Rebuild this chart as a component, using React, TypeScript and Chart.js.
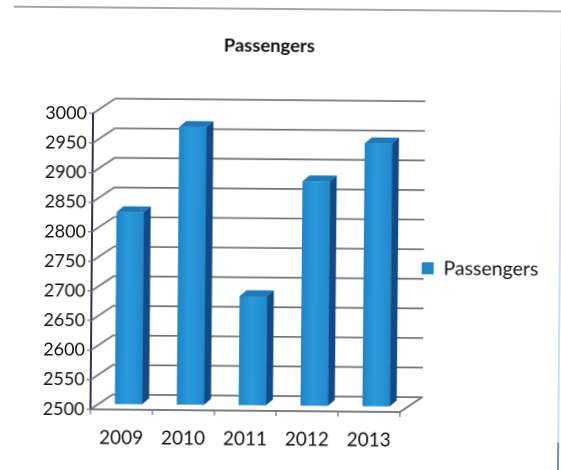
import React, { useEffect, useRef } from "react";
import { Chart, registerables } from "chart.js";

Chart.register(...registerables);

const categories = ["2009", "2010", "2011", "2012", "2013"];
const passengers = [2825, 2970, 2685, 2880, 2945];
const yMin = 2500;
const yMax = 3000;
const yStep = 50;
const seriesName = "Passengers";
const chartTitle = "Passengers";

const FONT = "Lato, 'Noto Sans', sans-serif";
const BACK_DX = 22;
const BACK_DY = -15;
const BAR_DX = 7;
const BAR_DY = -5;
const SIDE_DX = 7;
const SIDE_DY = -6;
const TEXT = "#111116";

const look3d = {
  id: "look3d",
  afterLayout(chart: any) {
    const l = chart.legend;
    if (l) {
      l.left += 12;
      l.right = chart.width;
      l.top += 32;
      l.bottom += 32;
    }
  },
  beforeDatasetsDraw(chart: any) {
    const { ctx, chartArea: a, scales } = chart;
    const y = scales.y;
    ctx.save();
    ctx.lineCap = "round";
    // back wall grid + left wall diagonals
    y.ticks.forEach((tk: any) => {
      const py = y.getPixelForValue(tk.value);
      ctx.strokeStyle = "#6f7078";
      ctx.lineWidth = 1.7;
      ctx.beginPath();
      ctx.moveTo(a.left, py);
      ctx.lineTo(a.left + BACK_DX, py + BACK_DY);
      ctx.lineTo(a.right + BACK_DX, py + BACK_DY);
      ctx.stroke();
    });
    // floor right edge
    const fy = y.getPixelForValue(yMin);
    ctx.strokeStyle = "#6f7078";
    ctx.beginPath();
    ctx.moveTo(a.right, fy);
    ctx.lineTo(a.right + BACK_DX, fy + BACK_DY);
    ctx.stroke();
    ctx.restore();
    // bar depth faces
    const bars = chart.getDatasetMeta(0).data;
    ctx.save();
    ctx.translate(BAR_DX, BAR_DY);
    bars.forEach((b: any) => {
      const { x, y: top, base, width } = b.getProps(["x", "y", "base", "width"], true);
      const r = x + width / 2;
      const l = x - width / 2;
      ctx.fillStyle = "#124a88";
      ctx.beginPath();
      ctx.moveTo(r, top);
      ctx.lineTo(r + SIDE_DX, top + SIDE_DY);
      ctx.lineTo(r + SIDE_DX, base + SIDE_DY);
      ctx.lineTo(r, base);
      ctx.closePath();
      ctx.fill();
      ctx.fillStyle = "#1f78b8";
      ctx.beginPath();
      ctx.moveTo(l, top);
      ctx.lineTo(l + SIDE_DX, top + SIDE_DY);
      ctx.lineTo(r + SIDE_DX, top + SIDE_DY);
      ctx.lineTo(r, top);
      ctx.closePath();
      ctx.fill();
    });
    ctx.restore();
    ctx.save();
    ctx.translate(BAR_DX, BAR_DY);
  },
  afterDatasetsDraw(chart: any) {
    chart.ctx.restore();
  },
  afterDraw(chart: any) {
    const { ctx, width, height } = chart;
    ctx.save();
    ctx.strokeStyle = "#6d7078";
    ctx.lineWidth = 1.3;
    ctx.beginPath();
    ctx.moveTo(12, 9);
    ctx.lineTo(width, 9);
    ctx.stroke();
    ctx.strokeStyle = "#bcd3ea";
    ctx.lineWidth = 1.5;
    ctx.beginPath();
    ctx.moveTo(width - 1, 14);
    ctx.lineTo(width - 1, height - 30);
    ctx.stroke();
    ctx.strokeStyle = "#3f6f9f";
    ctx.beginPath();
    ctx.moveTo(width - 1, height - 30);
    ctx.lineTo(width - 1, height);
    ctx.stroke();
    ctx.restore();
  },
};

export default function App() {
  const ref = useRef<HTMLCanvasElement>(null);
  useEffect(() => {
    document.body.style.margin = "0";
    const chart = new Chart(ref.current as HTMLCanvasElement, {
      type: "bar",
      plugins: [look3d],
      data: {
        labels: categories,
        datasets: [
          {
            label: seriesName,
            data: passengers,
            base: yMin,
            barPercentage: 0.44,
            categoryPercentage: 1,
            backgroundColor: (c: any) => {
              const x = c.dataIndex === undefined ? NaN : c.chart.scales.x?.getPixelForValue(c.dataIndex);
              if (!Number.isFinite(x)) return "#2089d2";
              const g = c.chart.ctx.createLinearGradient(x - 14, 0, x + 14, 0);
              g.addColorStop(0, "#1d84c8");
              g.addColorStop(0.45, "#2a9bdc");
              g.addColorStop(1, "#2288cb");
              return g;
            },
            borderWidth: 0,
          },
        ],
      },
      options: {
        responsive: false,
        animation: false,
        devicePixelRatio: 2,
        layout: { padding: { right: 25.7 } },
        plugins: {
          tooltip: { enabled: false },
          title: {
            display: true,
            text: chartTitle,
            color: TEXT,
            font: { family: FONT, size: 18.4, weight: "bold" },
            padding: { top: 35, bottom: 58 },
          },
          legend: {
            position: "right",
            labels: {
              boxWidth: 12,
              boxHeight: 12,
              padding: 8.5,
              color: TEXT,
              font: { family: FONT, size: 19.5 },
            },
          },
        },
        scales: {
          x: {
            afterFit: (s: any) => {
              s.height = 59;
            },
            grid: { drawOnChartArea: false, drawTicks: true, tickLength: 5, tickColor: "#555560", offset: true },
            border: { color: "#7d7e86", width: 2 },
            ticks: { color: TEXT, font: { family: FONT, size: 19 }, padding: 12 },
          },
          y: {
            min: yMin,
            max: yMax,
            afterFit: (s: any) => {
              s.width = 92;
            },
            ticks: {
              stepSize: yStep,
              color: TEXT,
              font: { family: FONT, size: 18 },
              padding: 2,
              callback: (v: any) => String(v),
            },
            grid: { drawOnChartArea: false, drawTicks: true, tickLength: 4, tickColor: "#555560" },
            border: { color: "#2d3450", width: 2 },
          },
        },
      },
    } as any);
    return () => chart.destroy();
  }, []);
  return (
    <div style={{ position: "fixed", inset: 0, overflow: "hidden", background: "#fff" }}>
      <canvas
        ref={ref}
        width={561}
        height={470}
        style={{ display: "block", width: 561, height: 470, transform: "rotate(0.5deg)", filter: "blur(0.35px)" }}
      />
    </div>
  );
}
